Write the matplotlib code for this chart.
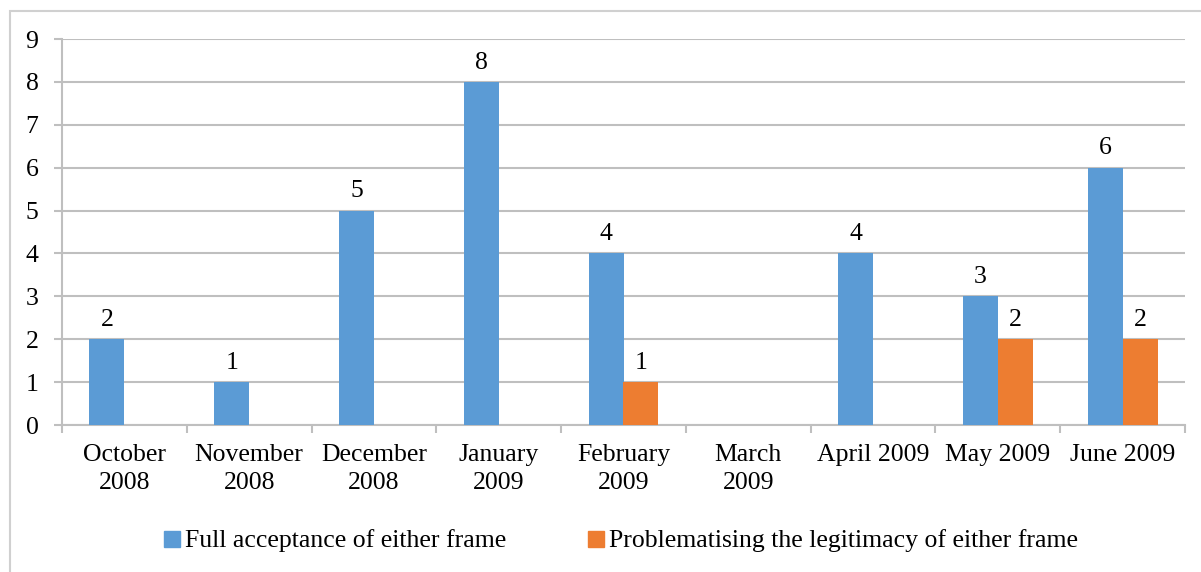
import matplotlib
matplotlib.use("Agg")
import matplotlib.pyplot as plt
import numpy as np
from matplotlib.patches import Rectangle
from matplotlib.lines import Line2D

plt.rcParams["font.family"] = ["Liberation Serif", "DejaVu Serif"]

# 数据
months = ["October\n2008", "November\n2008", "December\n2008", "January\n2009",
          "February\n2009", "March\n2009", "April 2009", "May 2009", "June 2009"]
full_accept = [2, 1, 5, 8, 4, 0, 4, 3, 6]
problematise = [0, 0, 0, 0, 1, 0, 0, 2, 2]
series_names = ["Full acceptance of either frame",
                "Problematising the legitimacy of either frame"]
colors = ["#5B9BD5", "#ED7D31"]

GRID = "#BFBFBF"
FS = 18.5

fig = plt.figure(figsize=(12.01, 5.72), dpi=100)
ax = fig.add_axes([62 / 1201, 1 - 425 / 572, (1185 - 62) / 1201, (425 - 39) / 572])

# 外框（只露出上边和左边）
fig.patches.append(Rectangle((10 / 1201, -0.2), 1.2, 1.2 - 11 / 572,
                             transform=fig.transFigure, fill=False,
                             edgecolor="#D0D0D0", linewidth=1.5))

x = np.arange(len(months))
w = 0.28
for vals, off, c in [(full_accept, -w / 2, colors[0]), (problematise, w / 2, colors[1])]:
    bars = ax.bar(x + off, vals, width=w, color=c, zorder=3)
    for b, v in zip(bars, vals):
        if v > 0:
            ax.annotate(str(v), (b.get_x() + b.get_width() / 2, v),
                        textcoords="offset points", xytext=(0, 6),
                        ha="center", va="bottom", fontsize=FS)

ax.set_xlim(-0.5, len(months) - 0.5)
ax.set_ylim(0, 9)
ax.set_yticks(range(10))
ax.yaxis.grid(True, color=GRID, linewidth=1.5, zorder=0)
ax.set_axisbelow(True)

ax.set_xticks(x)
ax.set_xticklabels(months, fontsize=FS, va="top", linespacing=1.3)
ax.tick_params(axis="x", length=0, pad=14)
ax.set_xticks(np.arange(len(months) + 1) - 0.5, minor=True)
ax.tick_params(axis="x", which="minor", length=6, color=GRID, width=1.5)
ax.tick_params(axis="y", length=6, color=GRID, width=1.5, pad=11, labelsize=FS)

for s in ["top", "right"]:
    ax.spines[s].set_visible(False)
for s in ["left", "bottom"]:
    ax.spines[s].set_color(GRID)
    ax.spines[s].set_linewidth(1.5)

handles = [Line2D([], [], marker="s", linestyle="none", markersize=11,
                  markerfacecolor=c, markeredgecolor=c) for c in colors]
fig.legend(handles, series_names, loc="center", bbox_to_anchor=(0.515, 1 - 541 / 572),
           ncol=2, frameon=False, fontsize=FS, handletextpad=0.0,
           columnspacing=3.0, handlelength=1.0)

fig.savefig("out.png", dpi=100)
